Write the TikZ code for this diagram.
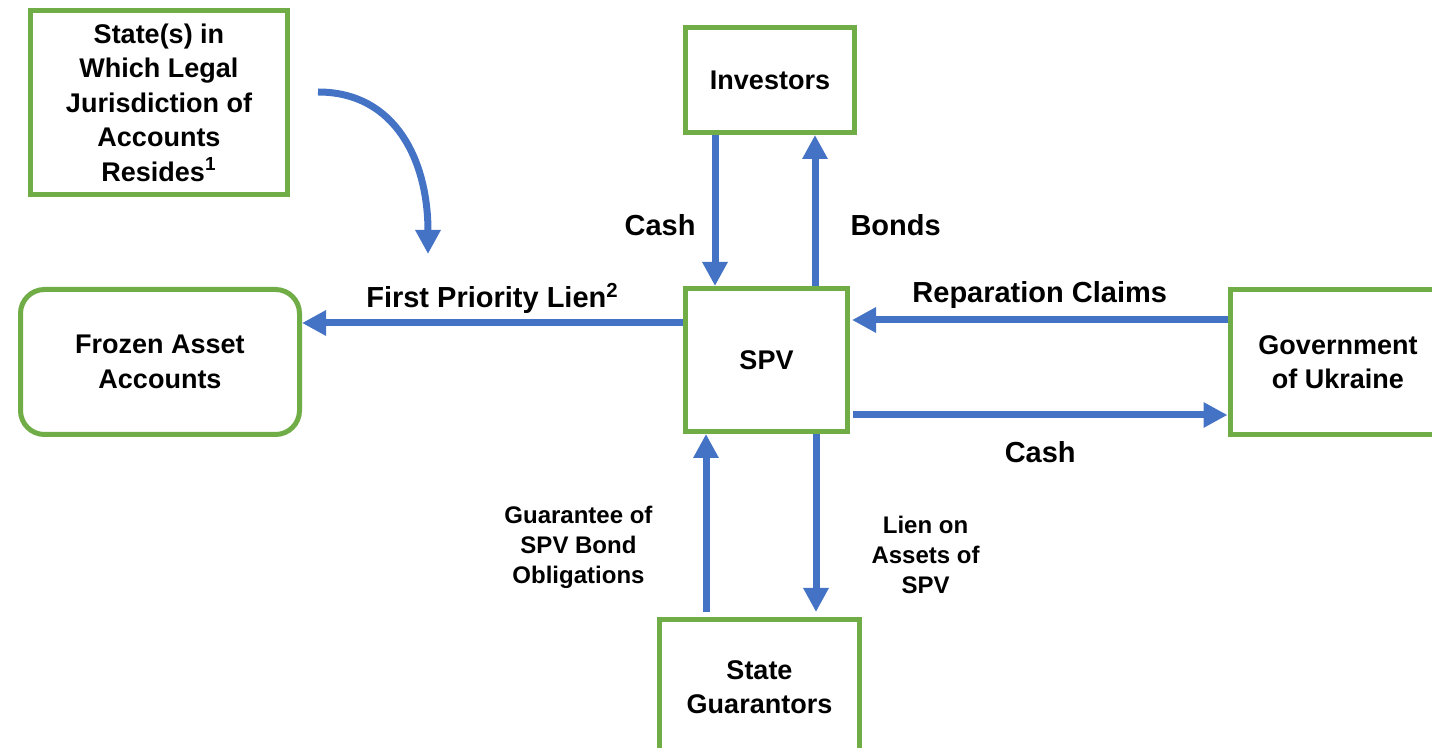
\documentclass[tikz,border=0pt]{standalone}
\usepackage{fontspec}
\setmainfont{Liberation Sans}
\usepackage{tikz}
\usetikzlibrary{arrows.meta}
\definecolor{boxgreen}{RGB}{112,173,71}
\definecolor{flowblue}{RGB}{68,114,196}
\newcommand\boxfont{\bfseries\fontsize{13.5}{17.25}\selectfont}
\newcommand\flowfont{\bfseries\fontsize{14.5}{17}\selectfont}
\newcommand\notefont{\bfseries\fontsize{12}{15}\selectfont}

\begin{document}
\begin{tikzpicture}[x=0.5pt,y=-0.5pt,
	box/.style={draw=boxgreen, line width=2.5pt, fill=white, align=center, font=\boxfont, inner sep=0pt},
	flow/.style={draw=flowblue, line width=3.5pt, -{Triangle[length=12pt,width=12pt]}},
	flowlabel/.style={font=\flowfont, inner sep=2pt},
	notelabel/.style={font=\notefont, align=center, inner sep=0pt}]
	\useasboundingbox (0,0) rectangle (1432,748);
%% Boxes:
	\node[box, minimum width=128.5pt, minimum height=92pt] (state) at (159,102.5) {State(s) in\\Which Legal\\Jurisdiction of\\Accounts\\Resides\textsuperscript{1}};
	\node[box, minimum width=84.5pt, minimum height=52.5pt] (investors) at (770,80) {Investors};
	\node[box, minimum width=81pt, minimum height=71.5pt] (spv) at (766.5,360) {SPV};
	\node[box, rounded corners=12pt, minimum width=139.5pt, minimum height=72.5pt] (frozen) at (160,362) {Frozen Asset\\Accounts};
	\node[box, minimum width=108pt, minimum height=72.5pt] (gov) at (1338,362) {Government\\of Ukraine};
	\node[box, minimum width=100pt, minimum height=67.5pt] (guarantors) at (759.5,687) {State\\Guarantors};

%% Flows:
	\draw[flow] (investors.south -| 715,0) -- node[flowlabel, pos=0.6, left=6pt] (cashin) {Cash} (spv.north -| 715,0);
	\draw[flow] (spv.north -| 815,0) -- node[flowlabel, pos=0.4, right=14pt] (bonds) {Bonds} (investors.south -| 815,0);
	\draw[flow] (spv.west |- 0,323) -- node[flowlabel, above=1pt] (lien) {First Priority Lien\textsuperscript{2}} (frozen.east |- 0,323);
	\draw[flow] (gov.west |- 0,320) -- node[flowlabel, above=2pt] (claims) {Reparation Claims} ([xshift=1pt]spv.east |- 0,320);
	\draw[flow] ([xshift=1.5pt]spv.east |- 0,415) -- node[flowlabel, below=9.5pt] (cashout) {Cash} (gov.west |- 0,415);
	\draw[flow, shorten <=2.5pt] (guarantors.north -| 706,0) -- node[notelabel, pos=0.38, left=25pt] (guarantee) {Guarantee of\\SPV Bond\\Obligations} (spv.south -| 706,0);
	\draw[flow, shorten >=2.5pt] (spv.south -| 816,0) -- node[notelabel, pos=0.66, right=26pt] (lienassets) {Lien on\\Assets of\\SPV} (guarantors.north -| 816,0);

%% Curved arrow from the jurisdiction box
	\coordinate (bendstart) at (318,92);
	\coordinate (bendend) at (428,254);
	\draw[flow] (bendstart) .. controls (395,92) and (428,160) .. (bendend);
\end{tikzpicture}
\end{document}
